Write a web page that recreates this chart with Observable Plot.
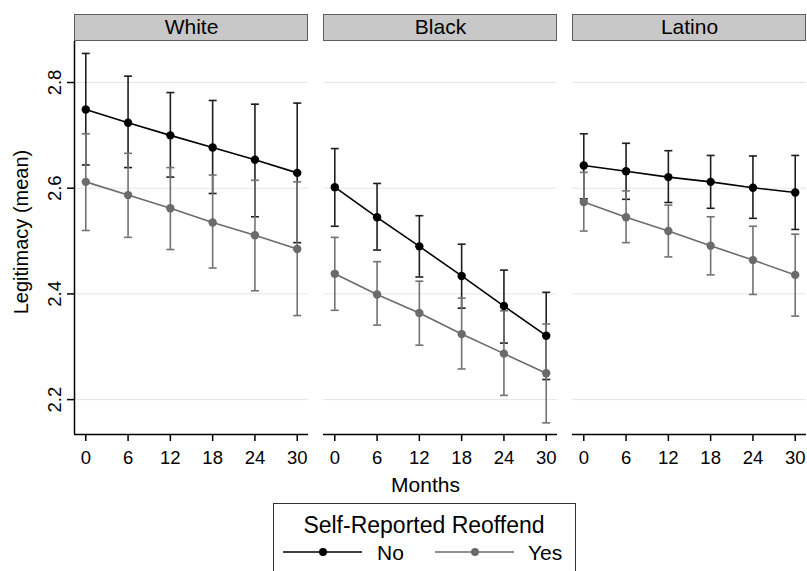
<!DOCTYPE html>
<html>
<head>
<meta charset="utf-8">
<script src="https://cdn.jsdelivr.net/npm/d3@7"></script>
<script src="https://cdn.jsdelivr.net/npm/@observablehq/plot@0.6"></script>
<style>
  html, body { margin: 0; padding: 0; background: #fff; overflow: hidden; }
  #wrap { position: relative; width: 807px; height: 571px; font-family: "Liberation Sans", Arial, Helvetica, sans-serif; }
  #legend { position: absolute; left: 0; top: 500px; }
</style>
</head>
<body>
<div id="wrap"></div>
<script>
// ---- Data ----
const groups = ["White", "Black", "Latino"];
const reoffendLevels = ["No", "Yes"];
const months = [0, 6, 12, 18, 24, 30];
const yTicks = [2.2, 2.4, 2.6, 2.8];

const whiteNoMean = [2.749, 2.724, 2.700, 2.677, 2.654, 2.629];
const whiteNoLo   = [2.644, 2.639, 2.621, 2.590, 2.546, 2.497];
const whiteNoHi   = [2.855, 2.812, 2.781, 2.766, 2.759, 2.761];
const whiteYesMean = [2.612, 2.587, 2.562, 2.535, 2.511, 2.485];
const whiteYesLo   = [2.520, 2.507, 2.484, 2.449, 2.406, 2.359];
const whiteYesHi   = [2.703, 2.666, 2.639, 2.625, 2.615, 2.612];

const blackNoMean = [2.602, 2.545, 2.490, 2.434, 2.377, 2.321];
const blackNoLo   = [2.528, 2.483, 2.432, 2.373, 2.307, 2.238];
const blackNoHi   = [2.675, 2.609, 2.548, 2.494, 2.445, 2.403];
const blackYesMean = [2.438, 2.399, 2.364, 2.324, 2.287, 2.250];
const blackYesLo   = [2.369, 2.341, 2.303, 2.258, 2.208, 2.156];
const blackYesHi   = [2.507, 2.461, 2.424, 2.392, 2.368, 2.343];

const latinoNoMean = [2.643, 2.632, 2.621, 2.612, 2.601, 2.592];
const latinoNoLo   = [2.580, 2.579, 2.573, 2.562, 2.543, 2.522];
const latinoNoHi   = [2.703, 2.685, 2.671, 2.662, 2.661, 2.662];
const latinoYesMean = [2.574, 2.545, 2.519, 2.491, 2.464, 2.436];
const latinoYesLo   = [2.519, 2.497, 2.470, 2.436, 2.399, 2.358];
const latinoYesHi   = [2.630, 2.595, 2.568, 2.546, 2.528, 2.513];

const series = [
  {group: "White", reoffend: "No", mean: whiteNoMean, lo: whiteNoLo, hi: whiteNoHi},
  {group: "White", reoffend: "Yes", mean: whiteYesMean, lo: whiteYesLo, hi: whiteYesHi},
  {group: "Black", reoffend: "No", mean: blackNoMean, lo: blackNoLo, hi: blackNoHi},
  {group: "Black", reoffend: "Yes", mean: blackYesMean, lo: blackYesLo, hi: blackYesHi},
  {group: "Latino", reoffend: "No", mean: latinoNoMean, lo: latinoNoLo, hi: latinoNoHi},
  {group: "Latino", reoffend: "Yes", mean: latinoYesMean, lo: latinoYesLo, hi: latinoYesHi}
];
const rows = series.flatMap(s => months.map((m, i) => ({
  group: s.group, reoffend: s.reoffend, month: m, mean: s.mean[i], lo: s.lo[i], hi: s.hi[i]
})));
const noRows = rows.filter(d => d.reoffend === "No");
const yesRows = rows.filter(d => d.reoffend === "Yes");

// ---- Style ----
const lineColors = ["#000000", "#6b6b6b"];
const barColors = ["#1e1e1e", "#727272"];
const xDomain = [-1.6, 31.6];
const yDomain = [2.134, 2.8776];
const stripH = 27;
const font = "Liberation Sans, Arial, Helvetica, sans-serif";

const capSymbol = {
  draw(ctx, size) {
    const r = Math.sqrt(size / Math.PI);
    ctx.moveTo(-r, 0);
    ctx.lineTo(r, 0);
  }
};

function strips(index, scales, values, dimensions) {
  const {marginLeft, marginRight, marginTop, width} = dimensions;
  const g = d3.create("svg:g");
  g.append("rect")
    .attr("x", marginLeft + 0.5)
    .attr("y", marginTop - stripH + 0.5)
    .attr("width", width - marginLeft - marginRight - 1)
    .attr("height", stripH - 1)
    .attr("fill", "#c8c8c8")
    .attr("stroke", "#5e5e5e")
    .attr("stroke-width", 1);
  return g.node();
}

function errorBars(data, k) {
  return [
    Plot.ruleX(data, {x: "month", y1: "lo", y2: "hi", fx: "group", stroke: barColors[k], strokeWidth: 1.6}),
    Plot.dot(data, {x: "month", y: "lo", fx: "group", symbol: capSymbol, r: 4, fill: "none", stroke: barColors[k], strokeWidth: 1.6}),
    Plot.dot(data, {x: "month", y: "hi", fx: "group", symbol: capSymbol, r: 4, fill: "none", stroke: barColors[k], strokeWidth: 1.6})
  ];
}

const chart = Plot.plot({
  width: 807,
  height: 500,
  marginLeft: 74,
  marginRight: 0,
  marginTop: 41,
  marginBottom: 66,
  style: {fontFamily: font, color: "#000", background: "#fff", overflow: "visible"},
  fx: {domain: groups, axis: null, paddingInner: 0.06, paddingOuter: 0, label: null},
  x: {domain: xDomain},
  y: {domain: yDomain},
  marks: [
    strips,
    Plot.gridY(yTicks, {stroke: "#e6e6e6", strokeOpacity: 1, strokeWidth: 1}),
    Plot.text(groups, {fx: d => d, text: d => d, frameAnchor: "top", dy: -14, lineAnchor: "middle", fontSize: 21, fill: "#000"}),
    ...errorBars(noRows, 0),
    ...errorBars(yesRows, 1),
    Plot.line(noRows, {x: "month", y: "mean", fx: "group", stroke: lineColors[0], strokeWidth: 1.6}),
    Plot.line(yesRows, {x: "month", y: "mean", fx: "group", stroke: lineColors[1], strokeWidth: 1.6}),
    Plot.dot(noRows, {x: "month", y: "mean", fx: "group", r: 4.2, fill: lineColors[0]}),
    Plot.dot(yesRows, {x: "month", y: "mean", fx: "group", r: 4.2, fill: lineColors[1]}),
    Plot.ruleY([yDomain[0]], {stroke: "#000", strokeWidth: 1.5}),
    Plot.ruleX([xDomain[0]], {fx: ["White"], stroke: "#000", strokeWidth: 1.5}),
    Plot.axisX({ticks: months, tickSize: 7, tickPadding: 9, fontSize: 18.5, label: null, stroke: "#000", strokeWidth: 1.5}),
    Plot.axisY({ticks: yTicks, tickSize: 7, tickFormat: () => "", label: null, stroke: "#000", strokeWidth: 1.5}),
    Plot.text(yTicks, {fx: ["White", "White", "White", "White"], y: d => d, text: d => d.toFixed(1), frameAnchor: "left", rotate: -90, dx: -14, lineAnchor: "bottom", textAnchor: "middle", fontSize: 18.5, fill: "#000"}),
    Plot.text(["Legitimacy (mean)"], {fx: ["White"], text: d => d, frameAnchor: "left", rotate: -90, dx: -47, dy: -6, lineAnchor: "bottom", textAnchor: "middle", fontSize: 20, fill: "#000"}),
    Plot.text(["Months"], {fx: ["Black"], text: d => d, frameAnchor: "bottom", dx: -15, dy: 57.5, lineAnchor: "bottom", fontSize: 21, fill: "#000"})
  ]
});

const wrap = document.getElementById("wrap");
wrap.appendChild(chart);

// ---- Legend (below the chart) ----
const leg = d3.select(wrap).append("svg")
  .attr("id", "legend")
  .attr("width", 807).attr("height", 71)
  .style("font-family", font);
leg.append("rect")
  .attr("x", 273.5).attr("y", 3.5).attr("width", 302).attr("height", 100)
  .attr("fill", "#fff").attr("stroke", "#333").attr("stroke-width", 1);
leg.append("text")
  .attr("x", 424).attr("y", 33)
  .attr("text-anchor", "middle").attr("font-size", 23).attr("fill", "#000")
  .text("Self-Reported Reoffend");
const items = [
  {label: reoffendLevels[0], x0: 283, color: lineColors[0], tx: 377},
  {label: reoffendLevels[1], x0: 435, color: lineColors[1], tx: 528}
];
items.forEach(it => {
  leg.append("line").attr("x1", it.x0).attr("x2", it.x0 + 79).attr("y1", 52).attr("y2", 52)
    .attr("stroke", it.color).attr("stroke-width", 1.5);
  leg.append("circle").attr("cx", it.x0 + 40).attr("cy", 52).attr("r", 4).attr("fill", it.color);
  leg.append("text").attr("x", it.tx).attr("y", 60).attr("font-size", 21).attr("fill", "#000").text(it.label);
});
</script>
</body>
</html>
